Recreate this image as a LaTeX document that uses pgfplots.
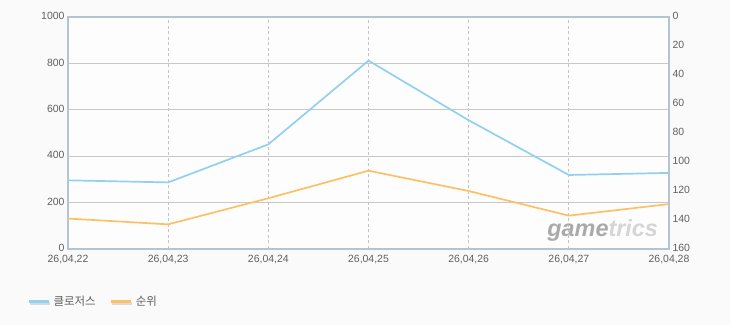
\documentclass[border=0pt]{standalone}
\usepackage{pgfplots}
\pgfplotsset{compat=1.18}
\usepackage{fontspec}
\setmainfont{Liberation Sans}
\newfontfamily\kr{Noto Sans CJK KR}
\definecolor{bgc}{HTML}{FAFAFA}
\definecolor{plotbg}{HTML}{FDFDFD}
\definecolor{framec}{HTML}{B3C4D7}
\definecolor{gridc}{HTML}{C8C8C8}
\definecolor{vgrid}{HTML}{C4C4C4}
\definecolor{lbl}{HTML}{606060}
\definecolor{sblue}{HTML}{92D0F0}
\definecolor{sorange}{HTML}{FDC064}
\definecolor{wm1}{HTML}{AAAAAA}
\definecolor{wm2}{HTML}{D6D6D6}
\pgfplotsset{
  common/.style={
    at={(68bp,76bp)}, anchor=south west, scale only axis,
    width=601bp, height=232bp,
    xmin=0, xmax=6,
    major tick length=0pt,
    axis line style={framec, line width=1.5bp},
    tick label style={font=\fontsize{10.5}{12}\selectfont, text=lbl},
    /pgf/number format/assume math mode=true,
    /pgf/number format/1000 sep={},
  }
}
\begin{document}
\begin{tikzpicture}
\fill[bgc] (0,0) rectangle (730bp,325bp);
\begin{axis}[common,
  ymin=0, ymax=1000,
  ytick={0,200,...,1000},
  yticklabel style={yshift=0.8bp},
  xtick={0,1,2,3,4,5,6},
  xticklabels={{26,04,22},{26,04,23},{26,04,24},{26,04,25},{26,04,26},{26,04,27},{26,04,28}},
  xticklabel style={yshift=-2.5bp},
  axis background/.style={fill=plotbg},
  ymajorgrids, xmajorgrids,
  y grid style={gridc, line width=0.8bp},
  x grid style={vgrid, line width=0.7bp, dash pattern=on 3bp off 2.5bp},
  legend style={at={(-0.0725,-0.2284)}, anchor=west, draw=none, fill=none,
    font=\fontsize{11.5}{13}\selectfont\kr, text=lbl,
    legend columns=2, /tikz/every even column/.append style={column sep=12bp}},
  legend cell align=left,
  legend image code/.code={
    \draw[gray!30, line width=3bp] (1bp,-1.2bp) -- (21bp,-1.2bp);
    \draw[#1, line width=3bp] (0bp,0bp) -- (20bp,0bp);},
]
\addplot[sblue, line width=1.7bp] coordinates {(0,296) (1,287) (2,451) (3,812) (4,555) (5,319) (6,328)};
\addlegendentry{클로저스}
\addlegendimage{sorange}
\addlegendentry{순위}
\node[anchor=base east, inner sep=0pt, font=\bfseries\itshape\fontsize{23.5}{24}\selectfont]
  at (rel axis cs:0.982,0.052) {\textcolor{wm1}{game}\textcolor{wm2}{trics}};
\end{axis}
\begin{axis}[common,
  ymin=0, ymax=160, y dir=reverse,
  ytick={0,20,...,160},
  yticklabel style={yshift=0.8bp},
  axis x line=none, axis y line*=right,
]
\addplot[sorange, line width=1.7bp] coordinates {(0,139) (1,143) (2,125) (3,106) (4,120) (5,137) (6,129)};
\end{axis}
\end{tikzpicture}
\end{document}
